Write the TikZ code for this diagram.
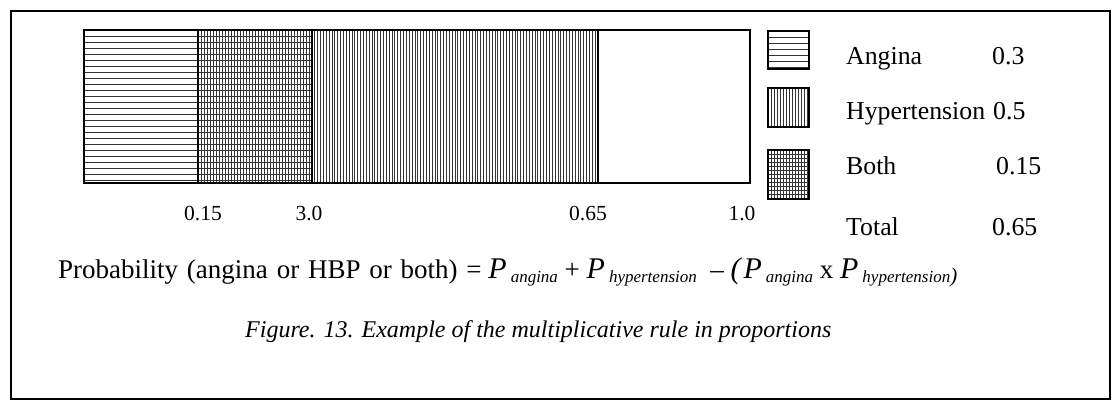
\documentclass[tikz,border=0pt]{standalone}
\usepackage{fontspec}
\setmainfont{Liberation Serif}
\newcommand{\bigP}[1]{{\fontsize{30}{30}\selectfont\itshape P}\kern4pt\raisebox{-4pt}{\fontsize{17}{17}\selectfont\itshape #1}}
\begin{document}
\begin{tikzpicture}[x=1pt, y=-1pt,
    hatch/.style={line width=.9pt, black!80},
    edge/.style={line width=2pt},
    txt/.style={inner sep=0pt, anchor=base west, font=\fontsize{25.8}{30}\selectfont},
    tick/.style={inner sep=0pt, anchor=base, font=\fontsize{21.5}{25}\selectfont}]
\useasboundingbox (0,0) rectangle (1112,401);
\draw[line width=1.5pt] (11,11) rectangle (1110,399);

\foreach \y in {36,42,...,180}
{
    \draw[hatch] (84,\y)--(312,\y);
}
\foreach \x in {201,204,...,310}
{
    \draw[hatch] (\x,30)--(\x,183);
}
\foreach \i in {1,...,99}
{
    \draw[hatch] (312+\i*2.86,30)--(312+\i*2.86,183);
}
\draw[edge] (84,30) rectangle (750,183);
\foreach \x in {198,312,598}
{
    \draw[edge] (\x,30)--(\x,183);
}

\foreach \x/\t in {203/0.15,309/3.0,588/0.65,742/1.0}
{
    \node[tick] (tick\x) at (\x,220) {\t};
}

\foreach \y in {37,43,...,67}
{
    \draw[hatch] (768,\y)--(809,\y);
}
\foreach \x in {771,774,...,807}
{
    \draw[hatch] (\x,88)--(\x,127);
    \draw[hatch] (\x,150)--(\x,199);
}
\foreach \y in {154,158,...,197}
{
    \draw[hatch] (768,\y)--(809,\y);
}
\foreach \a/\b in {31/69,88/127,150/199}
{
    \draw[edge] (768,\a) rectangle (809,\b);
}

\foreach \y/\n/\v/\vx in {65/Angina/0.3/992,120/Hypertension/0.5/993,175/Both/0.15/996,235/Total/0.65/992}
{
    \node[txt] (\n) at (846,\y) {\n};
    \node[txt] (\n-val) at (\vx,\y) {\v};
}

\node[txt, font=\fontsize{27}{30}\selectfont] (rule) at (58,278) {{\spaceskip=8.8pt Probability (angina or HBP or both) =} \bigP{angina} + \bigP{hypertension}\ \ --\ {\fontsize{30}{30}\selectfont\itshape (}\kern3pt\bigP{angina} x \bigP{hypertension{\fontsize{21}{21}\selectfont)}}};

\node[inner sep=0pt, anchor=base west, font=\itshape\fontsize{24}{28}\selectfont] (caption) at (245,337) {Figure. 13. Example of the multiplicative rule in proportions};

\end{tikzpicture}
\end{document}
